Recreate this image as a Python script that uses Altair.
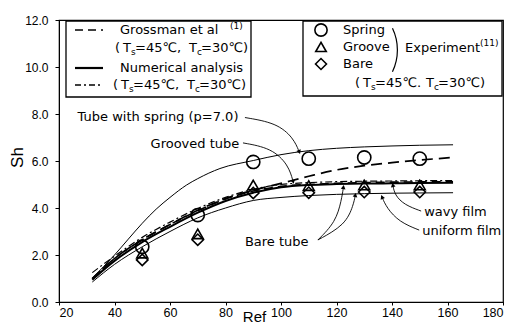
import math
import altair as alt
import pandas as pd

# ---------------- data ----------------
re_curve = [32, 40, 50, 60, 70, 80, 90, 100, 110, 120, 130, 140, 150, 162]
sh_uniform = [0.85, 1.6, 2.35, 3.0, 3.58, 4.0, 4.32, 4.45, 4.53, 4.58, 4.61, 4.63, 4.64, 4.65]
sh_numerical = [0.95, 1.75, 2.55, 3.2, 3.8, 4.3, 4.65, 4.88, 4.98, 5.02, 5.04, 5.05, 5.06, 5.07]
sh_grossman_bare = [1.0, 1.85, 2.65, 3.3, 3.88, 4.38, 4.72, 4.92, 5.0, 5.05, 5.08, 5.1, 5.11, 5.12]
sh_wavy = [1.25, 1.95, 2.75, 3.4, 3.98, 4.45, 4.8, 5.0, 5.08, 5.12, 5.14, 5.15, 5.16, 5.17]
sh_grooved = [1.0, 1.85, 2.65, 3.3, 3.9, 4.4, 4.75, 5.05, 5.35, 5.62, 5.8, 5.93, 6.04, 6.15]

re_spring_curve = [32, 36, 40, 45, 50, 55, 60, 66, 70, 78, 90, 100, 110, 120, 130, 140, 150, 162]
sh_spring_curve = [1.0, 1.5, 2.0, 2.68, 3.35, 3.95, 4.45, 4.98, 5.25, 5.68, 6.02, 6.27, 6.44, 6.54, 6.6, 6.64, 6.67, 6.69]

re_exp = [50, 70, 90, 110, 130, 150]
sh_exp_spring = [2.35, 3.7, 5.96, 6.1, 6.15, 6.1]
sh_exp_groove = [2.08, 2.9, 4.98, 4.95, 4.98, 4.98]
sh_exp_bare = [1.79, 2.65, 4.64, 4.65, 4.68, 4.68]

x_ticks = [20, 40, 60, 80, 100, 120, 140, 160, 180]
y_ticks = [0, 2, 4, 6, 8, 10, 12]

ann_text = ["Tube with spring (p=7.0)", "Grooved tube", "Bare tube", "wavy film", "uniform film"]
ann_re = [26.7, 53.0, 87.0, 151.6, 150.9]
ann_sh = [7.87, 6.72, 2.55, 3.83, 3.02]

arrow_spring = [(87.0, 7.85), (98.4, 7.62), (104.5, 6.98), (106.6, 6.38)]
arrow_grooved = [(86.3, 6.77), (96.6, 6.55), (102.7, 5.83), (104.4, 5.11)]
arrow_bare1 = [(113.3, 2.64), (119.7, 3.4), (121.8, 4.34), (122.5, 4.89)]
arrow_bare2 = [(113.3, 2.64), (123.2, 3.28), (126.1, 4.13), (126.8, 4.55)]
arrow_wavy = [(150.5, 3.87), (144.5, 4.13), (141.0, 4.55), (140.3, 4.98)]
arrow_uniform = [(149.8, 3.06), (142.7, 3.4), (138.1, 4.0), (136.4, 4.47)]
arrows = [arrow_spring, arrow_grooved, arrow_bare1, arrow_bare2, arrow_wavy, arrow_uniform]

# ---------------- layout ----------------
W, H = 444, 282
OX, OY = 59, 20          # plot origin on the page
PX_PER_X = W / 160.0
PX_PER_Y = H / 12.0
FONT = "DejaVu Sans"
TICKFONT = "Liberation Sans"

xscale = alt.Scale(domain=[20, 180], nice=False, zero=False)
yscale = alt.Scale(domain=[0, 12], nice=False, zero=False)
xaxis = alt.Axis(values=x_ticks, format="d", grid=False, labelFont=TICKFONT, labelFontSize=12.5,
                 labelColor="black", tickColor="black", domainColor="black", tickSize=3,
                 labelPadding=1, title="Ref", titleFont=TICKFONT, titleFontSize=15,
                 titleFontWeight="normal", titleColor="black", titleX=195, titleY=19,
                 titleBaseline="alphabetic", titleAlign="center", labelFlush=True)
yaxis = alt.Axis(values=y_ticks, format=".1f", grid=False, labelFont=TICKFONT, labelFontSize=12,
                 labelColor="black", tickColor="black", domainColor="black", tickSize=4,
                 labelPadding=7, title="Sh", titleFont=TICKFONT, titleFontSize=17,
                 titleFontWeight="normal", titleColor="black", titleAngle=270, titleX=-42,
                 titleY=137, titleAlign="center", titleBaseline="middle", labelFlush=False)


def X(f):
    return alt.X(f, type="quantitative", scale=xscale, axis=xaxis)


def Y(f):
    return alt.Y(f, type="quantitative", scale=yscale, axis=yaxis)


layers = []

# curves
curve_specs = [
    (re_curve, sh_uniform, 1.0, None),
    (re_curve, sh_numerical, 2.0, None),
    (re_curve, sh_grossman_bare, 1.6, [9, 5]),
    (re_curve, sh_wavy, 1.2, [7, 3, 2, 3]),
    (re_curve, sh_grooved, 1.7, [11, 6]),
    (re_spring_curve, sh_spring_curve, 1.0, None),
]
for xs, ys, sw, dash in curve_specs:
    df = pd.DataFrame({"re": xs, "sh": ys})
    kw = dict(color="black", strokeWidth=sw, interpolate="monotone")
    if dash:
        kw["strokeDash"] = dash
    layers.append(alt.Chart(df).mark_line(**kw).encode(x=X("re"), y=Y("sh")))

# experiment markers
for ys, shape, size in [(sh_exp_spring, "circle", 175), (sh_exp_groove, "triangle-up", 120),
                        (sh_exp_bare, "diamond", 130)]:
    df = pd.DataFrame({"re": re_exp, "sh": ys})
    layers.append(alt.Chart(df).mark_point(shape=shape, size=size, filled=False, color="black",
                                           strokeWidth=1.6, opacity=1)
                  .encode(x=X("re"), y=Y("sh")))

# annotation arrows
arrow_rows = []
head_rows = []
for i, pts in enumerate(arrows):
    for j, (a, b) in enumerate(pts):
        arrow_rows.append({"id": i, "order": j, "re": a, "sh": b})
    (x1, y1), (x2, y2) = pts[-2], pts[-1]
    dx = (x2 - x1) * PX_PER_X
    dy = (y2 - y1) * PX_PER_Y
    ang = math.degrees(math.atan2(dx, dy)) % 360
    head_rows.append({"re": x2, "sh": y2, "ang": ang})
arrow_df = pd.DataFrame(arrow_rows)
head_df = pd.DataFrame(head_rows)
layers.append(alt.Chart(arrow_df).mark_line(color="black", strokeWidth=0.9, interpolate="basis")
              .encode(x=X("re"), y=Y("sh"), detail="id:N", order="order:Q"))
layers.append(alt.Chart(head_df).mark_point(shape="triangle-up", size=22, filled=True, color="black",
                                            opacity=1)
              .encode(x=X("re"), y=Y("sh"), angle=alt.Angle("ang:Q", scale=None)))

# annotation texts
ann_df = pd.DataFrame({"re": ann_re, "sh": ann_sh, "t": ann_text})
layers.append(alt.Chart(ann_df).mark_text(align="left", baseline="middle", font=FONT, fontSize=13,
                                          color="black")
              .encode(x=X("re"), y=Y("sh"), text="t:N"))

# ---------------- legend furniture (page pixel positions) ----------------
one = pd.DataFrame({"a": [0]})


def ptxt(text, x, y, size=13, baseline="middle"):
    return alt.Chart(one).mark_text(text=text, align="left", baseline=baseline, font=FONT,
                                    fontSize=size, color="black").encode(
        x=alt.value(x - OX), y=alt.value(y - OY))


def box(x1, y1, x2, y2):
    return alt.Chart(one).mark_rect(fill="white", stroke="black", strokeWidth=1.3).encode(
        x=alt.value(x1 - OX), x2=alt.value(x2 - OX), y=alt.value(y1 - OY), y2=alt.value(y2 - OY))


def sample(x1, x2, y, sw, dash=None):
    kw = dict(color="black", strokeWidth=sw)
    if dash:
        kw["strokeDash"] = dash
    return alt.Chart(one).mark_rule(**kw).encode(
        x=alt.value(x1 - OX), x2=alt.value(x2 - OX), y=alt.value(y - OY))


def sym(shape, x, y, size):
    return alt.Chart(one).mark_point(shape=shape, size=size, filled=False, color="black",
                                     strokeWidth=1.6, opacity=1).encode(
        x=alt.value(x - OX), y=alt.value(y - OY))


def temps(x0, y, sep, gap=0):
    # "( Ts=45℃, Tc=30℃)" with subscripts, pieces placed as in the picture
    out = [ptxt("(", x0, y), ptxt("T", x0 + 8, y), ptxt("s", x0 + 16, y + 4, size=9),
           ptxt("=45℃" + sep, x0 + 20, y), ptxt("T", x0 + 74 + gap, y),
           ptxt("c", x0 + 82 + gap, y + 4, size=9), ptxt("=30℃)", x0 + 86 + gap, y)]
    return out


legend = [box(66, 21, 251, 97)]
legend += [sample(75, 103, 30, 1.5, [8, 5]), ptxt("Grossman et al", 120, 30),
           ptxt("(1)", 230, 26, size=9)]
legend += temps(115, 48, ",")
legend += [sample(75, 103, 68, 2.2), ptxt("Numerical analysis", 120, 68)]
legend += [sample(75, 103, 85, 1.3, [6, 3, 2, 3])]
legend += temps(113, 85, ",")

legend += [box(303, 21, 502, 96)]
legend += [sym("circle", 321, 30, 150), ptxt("Spring", 343, 30),
           sym("triangle-up", 321, 47, 110), ptxt("Groove", 343, 47),
           sym("diamond", 321, 64, 120), ptxt("Bare", 343, 64)]
legend += [alt.Chart(one).mark_arc(radius=51, radius2=49.8, theta=1.125, theta2=2.017,
                                   color="black").encode(x=alt.value(347 - OX), y=alt.value(50 - OY))]
legend += [ptxt("Experiment", 405, 48), ptxt("(11)", 480, 43, size=9)]
legend += temps(355, 83, ".", gap=-3)

chart = alt.layer(*(layers + legend)).properties(
    width=W, height=H,
    autosize=alt.AutoSizeParams(type="none"),
    padding={"left": 51, "top": 12, "right": 1, "bottom": 24},
).configure_view(stroke="black", strokeWidth=1.2)

chart.save("out.html", embed_options={"renderer": "svg", "actions": False})
